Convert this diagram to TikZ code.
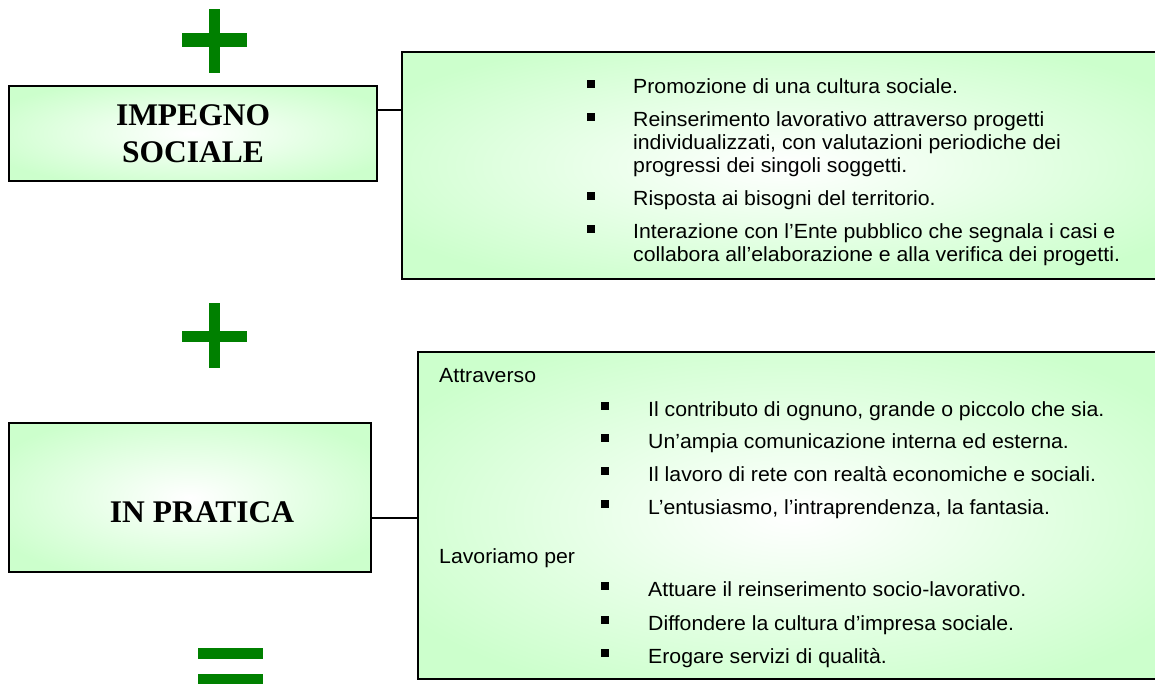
\documentclass[tikz,border=0pt]{standalone}
\usepackage{fontspec}
\setmainfont{Liberation Serif}
\newfontfamily\bodyfont[FakeStretch=1.037]{Liberation Sans}
\definecolor{lg}{RGB}{204,255,204}
\definecolor{lgw}{RGB}{245,255,245}
\definecolor{pg}{RGB}{0,128,0}
\pgfdeclareradialshading{boxshade}{\pgfpoint{0bp}{0bp}}{color(0bp)=(white); color(6bp)=(lgw); color(30bp)=(lg); color(50bp)=(lg)}
\tikzset{
  box/.style={rectangle, draw=black, line width=1.6pt, shading=boxshade, inner sep=0pt},
  ttl/.style={font=\bfseries\fontsize{31.5}{37}\selectfont, align=center, inner sep=0pt},
  txt/.style={font=\bodyfont\fontsize{20.5}{23}\selectfont, anchor=base west, inner sep=0pt},
  bul/.style={rectangle, fill=black, minimum size=8.5pt, inner sep=0pt},
  conn/.style={draw=black, line width=1.6pt},
  sym/.style={fill=pg}
}
\begin{document}
\begin{tikzpicture}[x=1pt,y=-1pt]
\useasboundingbox (0,0) rectangle (1155,684);
\clip (0,0) rectangle (1155,684);
\fill[white] (0,0) rectangle (1155,684);

% symbols
\fill[sym] (182,33) rectangle (247,47);
\fill[sym] (209,9) rectangle (220,73);
\fill[sym] (182,331) rectangle (247,342);
\fill[sym] (209,303) rectangle (220,368);
\fill[sym] (198,648) rectangle (263,659);
\fill[sym] (198,674) rectangle (263,690);

% boxes
\node[box, minimum width=368pt, minimum height=95pt] (b1) at (193,133.5) {};
\node[box, minimum width=768pt, minimum height=227pt] (b2) at (786,165.5) {};
\node[box, minimum width=362pt, minimum height=149pt] (b3) at (190,497.5) {};
\node[box, minimum width=752pt, minimum height=327pt] (b4) at (794,515.5) {};

\node[ttl] (t1) at (193,134) {IMPEGNO\\SOCIALE};
\node[ttl] (t2) at (202,512) {IN PRATICA};

% connectors
\coordinate (k1) at ([yshift=-25pt]b1.north east);
\draw[conn] (k1) -- (k1 -| b2.west);
\coordinate (k2) at ([yshift=-96pt]b3.north east);
\draw[conn] (k2) -- (k2 -| b4.west);

% box 2 text
\node[bul] (p1) at (591,84) {};
\node[txt] (a1) at (633,94) {Promozione di una cultura sociale.};
\node[bul] (p2) at (591,117) {};
\node[txt] (a2) at (633,127) {Reinserimento lavorativo attraverso progetti};
\node[txt] (a3) at (633,150) {individualizzati, con valutazioni periodiche dei};
\node[txt] (a4) at (633,173) {progressi dei singoli soggetti.};
\node[bul] (p3) at (591,196) {};
\node[txt] (a5) at (633,206) {Risposta ai bisogni del territorio.};
\node[bul] (p4) at (591,229) {};
\node[txt] (a6) at (633,239) {Interazione con l’Ente pubblico che segnala i casi e};
\node[txt] (a7) at (633,262) {collabora all’elaborazione e alla verifica dei progetti.};

% box 4 text
\node[txt] (h1) at (439,382) {Attraverso};
\node[bul] (q1) at (605,406) {};
\node[txt] (c1) at (648,416) {Il contributo di ognuno, grande o piccolo che sia.};
\node[bul] (q2) at (605,438) {};
\node[txt] (c2) at (648,448) {Un’ampia comunicazione interna ed esterna.};
\node[bul] (q3) at (605,471) {};
\node[txt] (c3) at (648,481) {Il lavoro di rete con realtà economiche e sociali.};
\node[bul] (q4) at (605,504) {};
\node[txt] (c4) at (648,514) {L’entusiasmo, l’intraprendenza, la fantasia.};
\node[txt] (h2) at (439,563) {Lavoriamo per};
\node[bul] (q5) at (605,586) {};
\node[txt] (d1) at (648,596) {Attuare il reinserimento socio-lavorativo.};
\node[bul] (q6) at (605,620) {};
\node[txt] (d2) at (648,630) {Diffondere la cultura d’impresa sociale.};
\node[bul] (q7) at (605,653) {};
\node[txt] (d3) at (648,663) {Erogare servizi di qualità.};
\end{tikzpicture}
\end{document}
